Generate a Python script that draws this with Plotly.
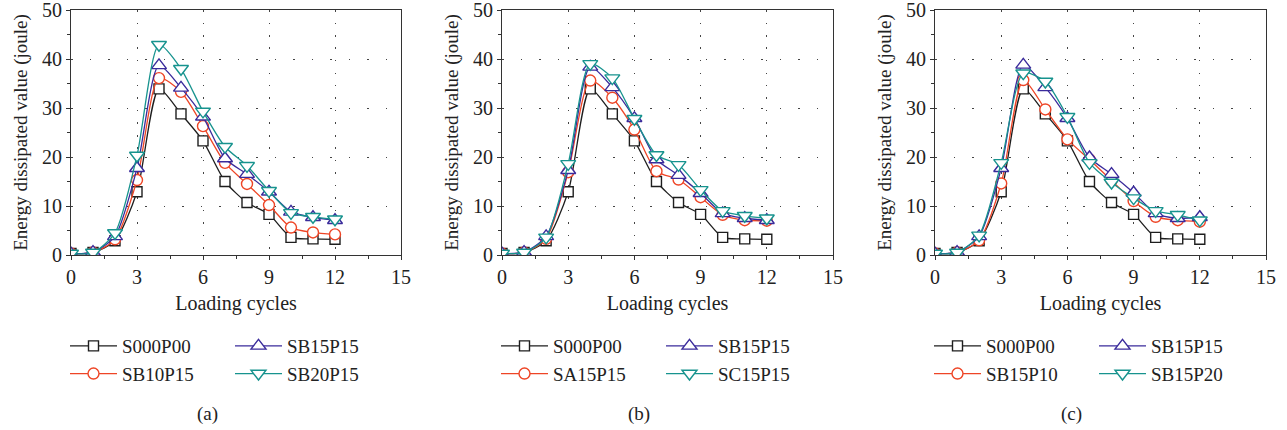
import plotly.graph_objects as go

W, H = 1287, 430

cycles = [0, 1, 2, 3, 4, 5, 6, 7, 8, 9, 10, 11, 12]

# Panel (a)
a_S000P00 = [0.3, 0.5, 2.9, 12.9, 33.9, 28.8, 23.3, 15.0, 10.7, 8.3, 3.6, 3.3, 3.2]
a_SB10P15 = [0.3, 0.5, 3.2, 15.3, 36.1, 33.3, 26.3, 18.8, 14.5, 10.2, 5.6, 4.6, 4.2]
a_SB15P15 = [0.3, 0.6, 3.8, 17.7, 38.7, 34.1, 28.2, 19.7, 16.5, 12.9, 8.8, 7.7, 7.1]
a_SB20P15 = [0.3, 0.5, 4.5, 20.3, 42.9, 38.0, 29.3, 22.1, 18.2, 13.1, 8.6, 7.8, 7.3]

# Panel (b)
b_S000P00 = [0.3, 0.5, 2.9, 12.9, 33.9, 28.8, 23.3, 15.0, 10.7, 8.3, 3.6, 3.3, 3.2]
b_SA15P15 = [0.3, 0.5, 3.3, 16.9, 35.6, 32.1, 25.6, 17.1, 15.4, 11.8, 8.2, 7.1, 7.0]
b_SB15P15 = [0.3, 0.6, 3.8, 17.3, 38.4, 34.2, 27.9, 19.5, 16.3, 12.6, 8.5, 7.5, 7.1]
b_SC15P15 = [0.3, 0.5, 3.6, 18.6, 39.0, 36.1, 27.8, 20.4, 18.4, 13.3, 9.0, 8.0, 7.5]

# Panel (c)
c_S000P00 = [0.3, 0.5, 2.9, 12.9, 33.9, 28.8, 23.3, 15.0, 10.7, 8.3, 3.6, 3.3, 3.2]
c_SB15P10 = [0.3, 0.5, 3.0, 14.6, 35.7, 29.7, 23.6, 19.5, 15.2, 11.0, 7.8, 7.1, 6.8]
c_SB15P15 = [0.3, 0.6, 3.8, 17.7, 38.8, 34.2, 27.9, 19.9, 16.5, 12.7, 8.5, 7.5, 7.7]
c_SB15P20 = [0.3, 0.5, 4.0, 18.8, 37.1, 35.4, 28.2, 18.8, 14.8, 11.6, 9.0, 8.2, 7.1]

x_ticks = [0, 3, 6, 9, 12, 15]
y_ticks = [0, 10, 20, 30, 40, 50]
captions = ["(a)", "(b)", "(c)"]
x_title = "Loading cycles"
y_title = "Energy dissipated value (joule)"

BLACK = "#1e1e1e"
RED = "#ee4526"
PURPLE = "#3a2b9b"
TEAL = "#17938e"

FONT = "Liberation Serif"

panels = [
    [("S000P00", a_S000P00, BLACK, "square", 10),
     ("SB10P15", a_SB10P15, RED, "circle", 11),
     ("SB15P15", a_SB15P15, PURPLE, "triangle-up", 13),
     ("SB20P15", a_SB20P15, TEAL, "triangle-down", 13)],
    [("S000P00", b_S000P00, BLACK, "square", 10),
     ("SA15P15", b_SA15P15, RED, "circle", 11),
     ("SB15P15", b_SB15P15, PURPLE, "triangle-up", 13),
     ("SC15P15", b_SC15P15, TEAL, "triangle-down", 13)],
    [("S000P00", c_S000P00, BLACK, "square", 10),
     ("SB15P10", c_SB15P10, RED, "circle", 11),
     ("SB15P15", c_SB15P15, PURPLE, "triangle-up", 13),
     ("SB15P20", c_SB15P20, TEAL, "triangle-down", 13)],
]

# pixel geometry of plot areas
x_px = [(71, 401), (502, 833), (935, 1266)]
y_top_px, y_bot_px = 10, 255

def px_x(p):
    return p / W

def px_y(p):
    return 1 - p / H

fig = go.Figure()
layout = {}
annotations = []

for i, traces in enumerate(panels):
    n = "" if i == 0 else str(i + 1)
    xa, ya = "x" + n, "y" + n
    for j, (name, vals, col, sym, sz) in enumerate(traces):
        col_idx = 0 if j < 2 else 1
        leg_num = i * 2 + col_idx + 1
        leg = "legend" if leg_num == 1 else "legend" + str(leg_num)
        fig.add_trace(go.Scatter(
            x=cycles, y=vals, name=name, mode="lines+markers",
            line=dict(color=col, width=1.3, shape="spline", smoothing=0.7),
            marker=dict(symbol=sym, size=sz, color="white",
                        line=dict(color=col, width=1.4)),
            xaxis=xa, yaxis=ya, legend=leg, legendgroup=name + str(i),
            cliponaxis=True,
        ))
    x0, x1 = x_px[i]
    axcommon = dict(
        showline=True, linecolor="#333", linewidth=1.2, mirror=True,
        ticks="outside", ticklen=4, tickcolor="#333", tickwidth=1,
        tickfont=dict(family=FONT, size=20, color="#222"),
        zeroline=False, showgrid=True, gridcolor="#444", gridwidth=1,
        automargin=False, ticklabeloverflow="allow",
    )
    layout["xaxis" + n] = dict(
        domain=[px_x(x0), px_x(x1)], anchor=ya, range=[0, 15],
        tickvals=x_ticks, ticktext=[str(v) for v in x_ticks],
        griddash="1.5px,11px",
        minor=dict(dtick=1.5, tick0=0, ticks="outside", ticklen=3, tickcolor="#333", showgrid=False),
        title=dict(text=x_title, font=dict(family=FONT, size=20, color="#222"), standoff=8),
        **axcommon,
    )
    layout["yaxis" + n] = dict(
        domain=[px_y(y_bot_px), px_y(y_top_px)], anchor=xa, range=[0, 50],
        tickvals=y_ticks, ticktext=[str(v) for v in y_ticks],
        griddash="1.5px,17px",
        minor=dict(dtick=5, tick0=0, ticks="outside", ticklen=3, tickcolor="#333", showgrid=False),
        title=dict(text=y_title, font=dict(family=FONT, size=19, color="#222"), standoff=9),
        **axcommon,
    )
    # legends: two columns
    for c, dx in enumerate([0, 165]):
        leg_num = i * 2 + c + 1
        key = "legend" if leg_num == 1 else "legend" + str(leg_num)
        layout[key] = dict(
            x=px_x(x0 - 6 + dx), xanchor="left",
            y=px_y(327), yanchor="top",
            orientation="v", bgcolor="rgba(0,0,0,0)",
            font=dict(family=FONT, size=19, color="#222"),
            tracegroupgap=0, itemwidth=47,
        )
    annotations.append(dict(
        text=captions[i], x=px_x((x0 + x1) / 2 - 29), y=px_y(414),
        xref="paper", yref="paper", showarrow=False,
        xanchor="center", yanchor="middle",
        font=dict(family=FONT, size=19, color="#222"),
    ))

fig.update_layout(
    width=W, height=H, margin=dict(l=0, r=0, t=0, b=0, autoexpand=False),
    paper_bgcolor="white", plot_bgcolor="white",
    annotations=annotations, **layout,
)

fig.write_html("out.html")
